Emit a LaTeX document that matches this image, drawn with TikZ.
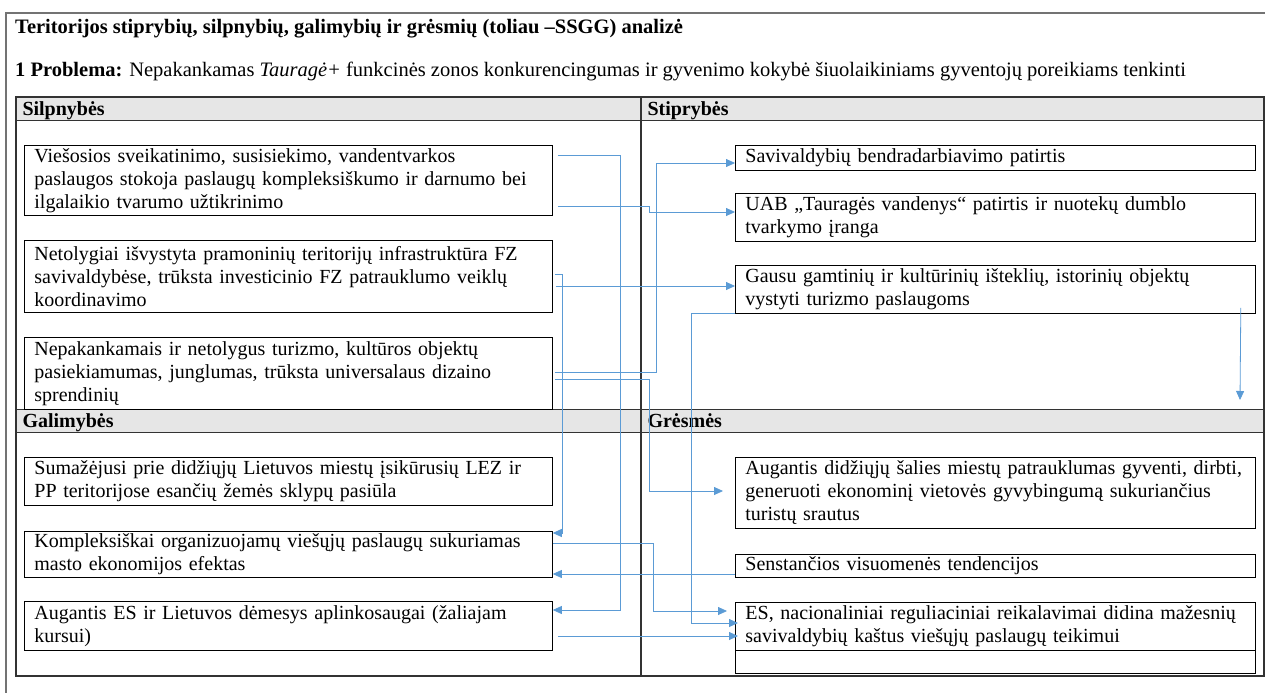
\documentclass[tikz,border=0pt]{standalone}
\usepackage{fontspec}
\setmainfont{Liberation Serif}
\usetikzlibrary{arrows.meta,positioning}
\definecolor{linkblue}{RGB}{91,155,213}
\definecolor{headgray}{RGB}{230,230,230}
\newcommand{\boxfont}{\fontsize{20}{23}\selectfont}
\newcommand{\topfont}{\fontsize{20.5}{23}\selectfont}

\begin{document}
\begin{tikzpicture}[x=1pt,y=-1pt,
      lbox/.style={
         rectangle,
         draw=black,
         line width=0.8pt,
         anchor=north west,
         inner xsep=10pt,
         inner ysep=0pt,
         align=left,
         text width=508pt,
         font=\boxfont
      },
      rbox/.style={lbox,text width=500pt},
      head/.style={
         rectangle,
         draw=black!80,
         line width=1pt,
         fill=headgray,
         anchor=north west,
         minimum height=23pt,
         inner xsep=6pt,
         inner ysep=0pt,
         text height=13.5pt,
         text depth=0pt,
         align=left,
         font=\boxfont\bfseries
      },
      grid/.style={draw=black!80,line width=1.1pt},
      frame/.style={draw=black!55,line width=1.4pt},
      link/.style={draw=linkblue,line width=0.8pt},
      tip/.style={-{Triangle[length=9pt,width=8pt]}}
    ]
    \useasboundingbox (0,0) rectangle (1265,693);
    \draw[frame] (1265,13) -- (6,13) -- (6,693);
    % title lines
    \node (title) [anchor=base west,inner sep=0pt,font=\topfont\bfseries] at (15,34)
       {Teritorijos stiprybių, silpnybių, galimybių ir grėsmių (toliau –SSGG) analizė};
    \node (problem) [anchor=base west,inner sep=0pt,font=\topfont] at (15,77)
       {\textbf{1 Problema:} Nepakankamas \textit{Tauragė+} funkcinės zonos konkurencingumas ir gyvenimo kokybė šiuolaikiniams gyventojų poreikiams tenkinti};
    % table
    \node (silp) [head,text width=613pt] at (16,97) {Silpnybės};
    \node (stip) [head,text width=611pt] at (641,97) {Stiprybės};
    \node (galim) [head,text width=613pt] at (16,409) {Galimybės};
    \node (gres) [head,text width=611pt] at (641,409) {Grėsmės};
    \draw[grid] (16,97) rectangle (1264,676);
    \draw[grid] (641,97) -- (641,676);
    % silpnybes
    \node (w1) [lbox,minimum height=70pt] at (24,145)
       {Viešosios sveikatinimo, susisiekimo, vandentvarkos\\paslaugos stokoja paslaugų kompleksiškumo ir darnumo bei\\ilgalaikio tvarumo užtikrinimo};
    \node (w2) [lbox,minimum height=72pt] at (24,240)
       {Netolygiai išvystyta pramoninių teritorijų infrastruktūra FZ\\savivaldybėse, trūksta investicinio FZ patrauklumo veiklų\\koordinavimo};
    \node (w3) [lbox,minimum height=72pt] at (24,337)
       {Nepakankamais ir netolygus turizmo, kultūros objektų\\pasiekiamumas, junglumas, trūksta universalaus dizaino\\sprendinių};
    % stiprybes
    \node (s1) [rbox,minimum height=25pt] at (735,145)
       {Savivaldybių bendradarbiavimo patirtis};
    \node (s2) [rbox,minimum height=48pt] at (735,193)
       {UAB „Tauragės vandenys“ patirtis ir nuotekų dumblo\\tvarkymo įranga};
    \node (s3) [rbox,minimum height=48pt] at (735,265)
       {Gausu gamtinių ir kultūrinių išteklių, istorinių objektų\\vystyti turizmo paslaugoms};
    % galimybes
    \node (o1) [lbox,minimum height=48pt] at (24,457)
       {Sumažėjusi prie didžiųjų Lietuvos miestų įsikūrusių LEZ ir\\PP teritorijose esančių žemės sklypų pasiūla};
    \node (o2) [lbox,minimum height=46pt] at (24,531)
       {Kompleksiškai organizuojamų viešųjų paslaugų sukuriamas\\masto ekonomijos efektas};
    \node (o3) [lbox,minimum height=49pt] at (24,601)
       {Augantis ES ir Lietuvos dėmesys aplinkosaugai (žaliajam\\kursui)};
    % gresmes
    \node (t1) [rbox,minimum height=71pt] at (735,457)
       {Augantis didžiųjų šalies miestų patrauklumas gyventi, dirbti,\\generuoti ekonominį vietovės gyvybingumą sukuriančius\\turistų srautus};
    \node (t2) [rbox,minimum height=23pt] at (735,554)
       {Senstančios visuomenės tendencijos};
    \node (t3) [rbox,minimum height=48pt] at (735,602)
       {ES, nacionaliniai reguliaciniai reikalavimai didina mažesnių\\savivaldybių kaštus viešųjų paslaugų teikimui};
    \node (t4) [rbox,minimum height=23pt] at (735,650) {};
    % connectors
    \draw[link,tip] ([shift={(5,10)}]w1.north east) -- ++(63,0) |- ([shift={(0,9)}]o3.north east);
    \draw[link,tip] ([shift={(5,61)}]w1.north east) -- ++(92,0) |- ([shift={(0,19)}]s2.north west);
    \draw[link,tip] ([shift={(2,34)}]w2.north east) -- ++(8,0) |- ([shift={(0,2)}]o2.north east);
    \draw[link,tip] ([shift={(3,46)}]w2.north east) -- ([shift={(0,21)}]s3.north west);
    \draw[link,tip] ([shift={(2,35)}]w3.north east) -- ++(102,0) |- ([shift={(0,18)}]s1.north west);
    \draw[link,tip] ([shift={(2,42)}]w3.north east) -- ++(95,0) |- ([shift={(-12,34)}]t1.north west);
    \draw[link,tip] (s3.south west) -- ++(-44,0) |- ([shift={(3,21)}]t3.north west);
    \draw[link,tip] ([shift={(0,12)}]o2.north east) -- ++(101,0) |- ([shift={(-8,9)}]t3.north west);
    \draw[link,tip] ([shift={(0,20)}]t2.north west) -- ([shift={(0,43)}]o2.north east);
    \draw[link,tip] ([shift={(5,35)}]o3.north east) -- ([shift={(3,34)}]t3.north west);
    \coordinate (k end) at (1240,400);
    \draw[link,tip] ([shift={(-15,-6)}]s3.south east) -- (k end);
\end{tikzpicture}
\end{document}
